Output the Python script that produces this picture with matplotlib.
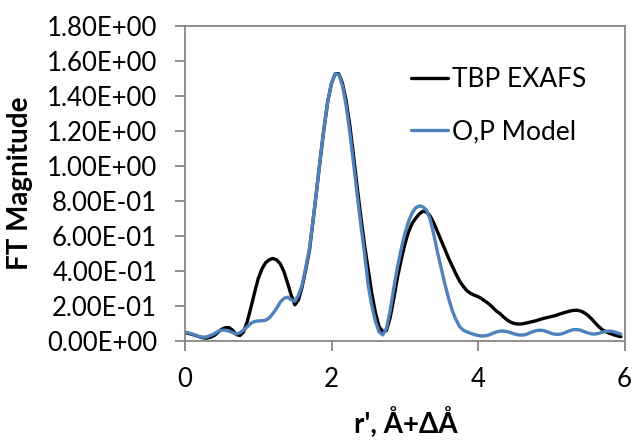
import numpy as np
import matplotlib
matplotlib.use("Agg")
import matplotlib.pyplot as plt
from matplotlib.ticker import FuncFormatter, MultipleLocator

plt.rcParams['font.family'] = ['Lato', 'DejaVu Sans']

# =====================================================
# DATA (0.05 A steps)
# =====================================================
r_prime = np.round(np.arange(0, 120) * 0.05, 2)   # 0.00 ... 5.95

tbp_exafs = [
    0.045, 0.041, 0.036, 0.029, 0.022, 0.016, 0.015, 0.020, 0.030, 0.048,
    0.065, 0.074, 0.075, 0.060, 0.035, 0.030, 0.050, 0.110, 0.190, 0.275,
    0.355, 0.410, 0.445, 0.463, 0.470, 0.462, 0.440, 0.395, 0.330, 0.260,
    0.205, 0.235, 0.310, 0.410, 0.520, 0.690, 0.870, 1.050, 1.220, 1.370,
    1.470, 1.525, 1.525, 1.470, 1.370, 1.230, 1.060, 0.880, 0.710, 0.550,
    0.410, 0.270, 0.160, 0.080, 0.052, 0.058, 0.130, 0.240, 0.360, 0.460,
    0.550, 0.620, 0.670, 0.700, 0.725, 0.740, 0.735, 0.710, 0.670, 0.620,
    0.570, 0.520, 0.470, 0.425, 0.380, 0.340, 0.310, 0.285, 0.270, 0.260,
    0.252, 0.240, 0.225, 0.210, 0.190, 0.170, 0.155, 0.135, 0.118, 0.105,
    0.098, 0.095, 0.096, 0.100, 0.105, 0.110, 0.115, 0.122, 0.128, 0.133,
    0.138, 0.143, 0.150, 0.157, 0.163, 0.169, 0.173, 0.174, 0.170, 0.160,
    0.145, 0.125, 0.102, 0.080, 0.062, 0.050, 0.042, 0.034, 0.028, 0.023,
]

op_model = [
    0.050, 0.044, 0.038, 0.030, 0.023, 0.020, 0.022, 0.030, 0.040, 0.053,
    0.060, 0.060, 0.055, 0.046, 0.038, 0.045, 0.060, 0.080, 0.100, 0.110,
    0.113, 0.114, 0.117, 0.130, 0.155, 0.185, 0.220, 0.242, 0.248, 0.235,
    0.225, 0.260, 0.320, 0.420, 0.530, 0.696, 0.873, 1.055, 1.225, 1.370,
    1.473, 1.525, 1.520, 1.457, 1.344, 1.190, 1.018, 0.837, 0.662, 0.504,
    0.320, 0.200, 0.110, 0.050, 0.033, 0.070, 0.170, 0.300, 0.420, 0.520,
    0.610, 0.680, 0.730, 0.760, 0.770, 0.765, 0.745, 0.690, 0.600, 0.500,
    0.410, 0.320, 0.240, 0.170, 0.120, 0.080, 0.060, 0.050, 0.042, 0.035,
    0.030, 0.027, 0.028, 0.033, 0.042, 0.050, 0.055, 0.055, 0.052, 0.045,
    0.038, 0.033, 0.032, 0.035, 0.043, 0.052, 0.058, 0.060, 0.057, 0.050,
    0.042, 0.037, 0.036, 0.040, 0.048, 0.057, 0.063, 0.064, 0.060, 0.052,
    0.044, 0.039, 0.038, 0.042, 0.049, 0.054, 0.055, 0.052, 0.045, 0.038,
]

series_labels = ["TBP EXAFS", "O,P Model"]
series_colors = ["#000000", "#4F81BD"]

# =====================================================
# FIGURE
# =====================================================
fig = plt.figure(figsize=(6.36, 4.41), dpi=100)
ax = fig.add_axes([185 / 636, 1 - 340.7 / 441, 439.5 / 636, 315 / 441])

ax.plot(r_prime, tbp_exafs, color=series_colors[0], lw=2.4,
        label=series_labels[0], solid_capstyle="round")
ax.plot(r_prime, op_model, color=series_colors[1], lw=2.4,
        label=series_labels[1], solid_capstyle="round")

ax.set_xlim(0, 6)
ax.set_ylim(0, 1.8)
ax.xaxis.set_major_locator(MultipleLocator(2))
ax.yaxis.set_major_locator(MultipleLocator(0.2))
ax.yaxis.set_major_formatter(FuncFormatter(lambda v, p: f"{v:.2E}"))

axis_gray = "#868686"
for side in ["left", "right", "top", "bottom"]:
    ax.spines[side].set_color(axis_gray)
    ax.spines[side].set_linewidth(1.3)

ax.tick_params(axis="both", direction="out", color=axis_gray, width=1.3,
               length=7, labelsize=18.5, pad=13)
ax.tick_params(axis="x", pad=12)

fig.text(20 / 636, 1 - 183 / 441, "FT Magnitude", rotation=90,
         ha="center", va="center", fontsize=20, fontweight="bold")
fig.text(406 / 636, 1 - 423 / 441, "r', Å+ΔÅ",
         ha="center", va="center", fontsize=20, fontweight="bold")

ax.legend(loc="upper left", bbox_to_anchor=(411 / 636, 1 - 67 / 441),
          bbox_transform=fig.transFigure, frameon=False, fontsize=19,
          handlelength=1.4, handletextpad=0.17, labelspacing=1.05,
          borderpad=0, borderaxespad=0)

plt.savefig("out.png", dpi=100)
plt.close()
